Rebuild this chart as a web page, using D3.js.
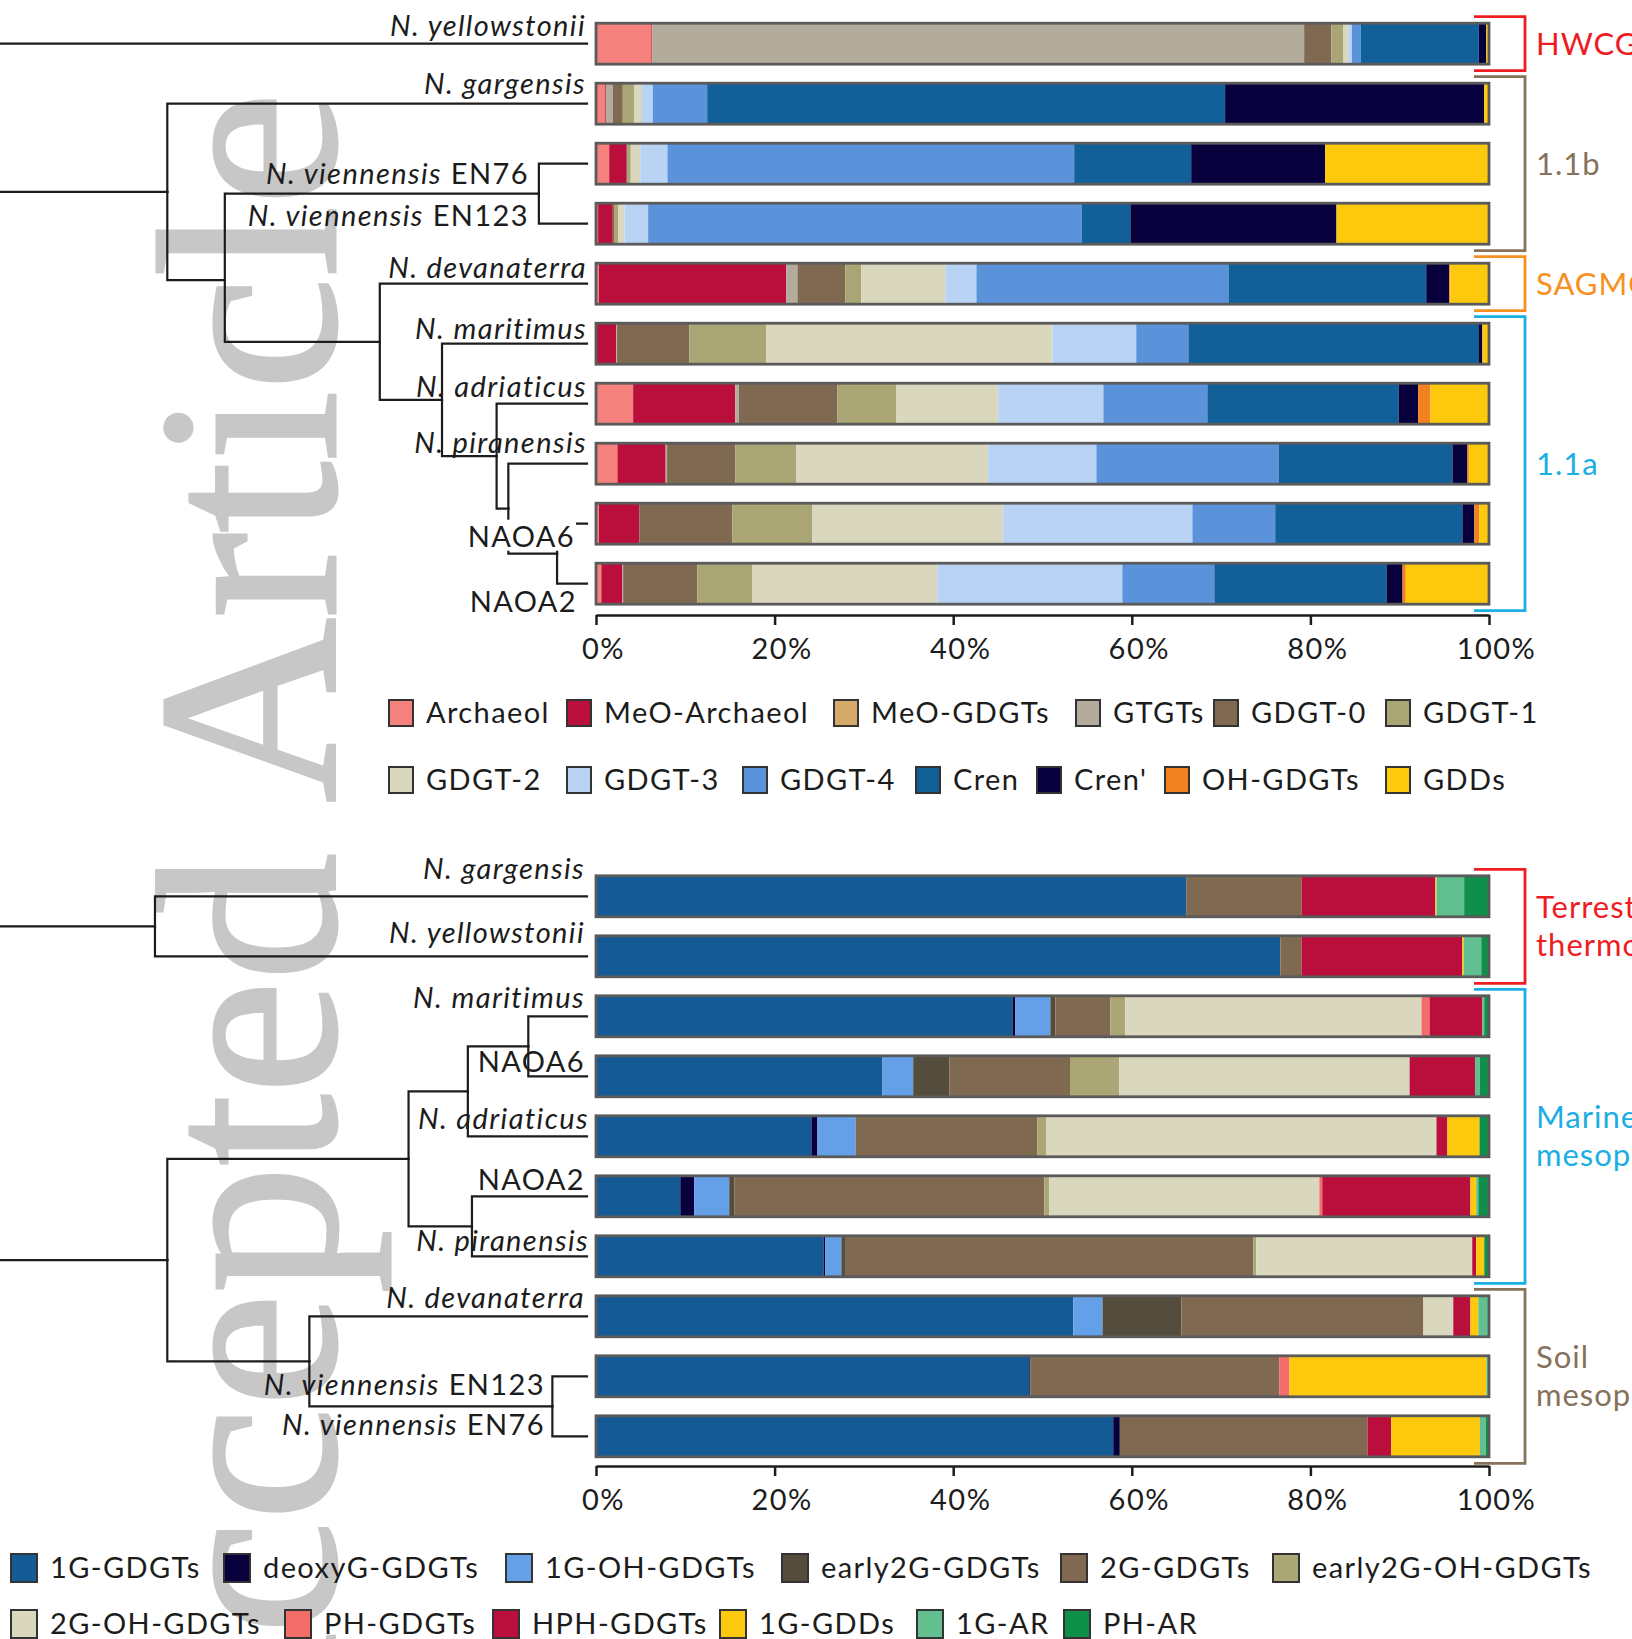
<!DOCTYPE html>
<html>
<head>
<meta charset="utf-8">
<script src="https://cdn.jsdelivr.net/npm/d3@7"></script>
<style>
  body { margin: 0; background: #ffffff; }
  svg { display: block; font-family: Lato, "Open Sans", "DejaVu Sans", sans-serif; }
</style>
</head>
<body>
<svg id="chart" width="1632" height="1639"></svg>
<script>
// ---------------- Upper panel: core lipid classes (% of total) ----------------
const lipidSeries = ["Archaeol", "MeO-Archaeol", "MeO-GDGTs", "GTGTs", "GDGT-0", "GDGT-1",
                     "GDGT-2", "GDGT-3", "GDGT-4", "Cren", "Cren'", "OH-GDGTs", "GDDs"];
const lipidColors = ["#F4817B", "#BA0F3C", "#D4A96A", "#B3AC9C", "#7F6A51", "#A9A575",
                     "#D9D7BE", "#B9D3F5", "#5A93DA", "#11609A", "#08003D", "#F28220", "#FDC90C"];
const lipidStrains = ["N. yellowstonii", "N. gargensis", "N. viennensis EN76", "N. viennensis EN123",
                      "N. devanaterra", "N. maritimus", "N. adriaticus", "N. piranensis", "NAOA6", "NAOA2"];
const lipidValues = [
  [6.2, 0.1, 0, 73.0, 3.05, 1.35, 0.55, 0.4, 1.0, 13.2, 0.85, 0, 0.3],
  [1.0, 0.1, 0, 0.8, 1.1, 1.25, 0.9, 1.2, 6.1, 58.0, 29.0, 0, 0.55],
  [1.48, 1.96, 0, 0, 0.1, 0.35, 1.07, 3.04, 45.55, 13.1, 15.0, 0, 18.35],
  [0.24, 1.64, 0, 0, 0.2, 0.4, 0.72, 2.64, 48.53, 5.47, 23.08, 0, 17.08],
  [0.32, 21.0, 0, 1.24, 5.36, 1.8, 9.4, 3.48, 28.23, 22.14, 2.58, 0.1, 4.35],
  [0, 2.28, 0.08, 0, 8.08, 8.64, 32.04, 9.38, 5.84, 32.47, 0.45, 0, 0.74],
  [4.16, 11.44, 0, 0.4, 11.04, 6.6, 11.4, 11.78, 11.64, 21.41, 2.2, 1.35, 6.58],
  [2.4, 5.4, 0, 0.16, 7.64, 6.84, 21.48, 12.12, 20.39, 19.48, 1.68, 0.16, 2.25],
  [0.32, 4.52, 0, 0, 10.44, 8.96, 21.36, 21.19, 9.27, 20.96, 1.34, 0.54, 1.1],
  [0.6, 2.36, 0, 0.08, 8.32, 6.16, 20.72, 20.7, 10.3, 19.28, 1.8, 0.36, 9.32]
];
// cladogram for the upper panel (depth: 0 = left edge, 100 = tips)
const lipidTree = [
  { leaf: "N. yellowstonii" },
  { depth: 28.5, children: [
    { leaf: "N. gargensis" },
    { depth: 38.3, row: 3.94, children: [
      { depth: 91.8, children: [{ leaf: "N. viennensis EN76" }, { leaf: "N. viennensis EN123" }] },
      { depth: 64.7, children: [
        { leaf: "N. devanaterra" },
        { depth: 75.3, children: [
          { leaf: "N. maritimus" },
          { depth: 84.6, children: [
            { leaf: "N. adriaticus" },
            { depth: 86.6, children: [
              { leaf: "N. piranensis" },
              { depth: 94.9, children: [{ leaf: "NAOA6" }, { leaf: "NAOA2" }] }
            ] }
          ] }
        ] }
      ] }
    ] }
  ] }
];
const lipidGroups = [
  { name: ["HWCG"], color: "#EE1D23", from: 0, to: 0 },
  { name: ["1.1b"], color: "#86715A", from: 1, to: 3 },
  { name: ["SAGMCG"], color: "#F7901E", from: 4, to: 4 },
  { name: ["1.1a"], color: "#1BAEE5", from: 5, to: 9 }
];

// ---------------- Lower panel: intact polar lipid headgroups (% of total) ----------------
const iplSeries = ["1G-GDGTs", "deoxyG-GDGTs", "1G-OH-GDGTs", "early2G-GDGTs", "2G-GDGTs",
                   "early2G-OH-GDGTs", "2G-OH-GDGTs", "PH-GDGTs", "HPH-GDGTs", "1G-GDDs", "1G-AR", "PH-AR"];
const iplColors = ["#145A95", "#08003D", "#64A0E8", "#544C3C", "#7F6A51", "#AAA676",
                   "#D9D7BE", "#F36D6A", "#BA0F3C", "#FDC90C", "#62C090", "#0E8F4A"];
const iplStrains = ["N. gargensis", "N. yellowstonii", "N. maritimus", "NAOA6", "N. adriaticus",
                    "NAOA2", "N. piranensis", "N. devanaterra", "N. viennensis EN123", "N. viennensis EN76"];
const iplValues = [
  [66.09, 0, 0, 0, 12.91, 0, 0, 0, 14.99, 0.13, 3.1, 2.78],
  [76.63, 0, 0, 0, 2.37, 0, 0, 0, 18.02, 0.16, 1.96, 0.86],
  [46.64, 0.32, 3.92, 0.56, 6.16, 1.67, 33.17, 0.9, 5.92, 0, 0.21, 0.53],
  [32.08, 0, 3.44, 4.04, 13.52, 5.52, 32.51, 0, 7.32, 0, 0.53, 1.04],
  [24.12, 0.68, 4.28, 0, 20.36, 1.0, 43.68, 0, 1.22, 3.6, 0, 1.06],
  [9.44, 1.56, 3.92, 0.56, 34.72, 0.56, 30.24, 0.33, 16.59, 0.65, 0.24, 1.19],
  [25.48, 0.2, 1.8, 0.4, 45.73, 0.33, 24.18, 0, 0.45, 0.9, 0, 0.53],
  [53.44, 0, 3.28, 8.84, 27.09, 0, 3.35, 0, 1.92, 0.89, 1.19, 0],
  [48.52, 0.12, 0, 0, 27.87, 0, 0, 1.14, 0, 22.06, 0.29, 0],
  [57.92, 0.74, 0, 0, 27.74, 0, 0, 0, 2.65, 9.93, 0.65, 0.37]
];
const iplTree = [
  { depth: 26.4, children: [{ leaf: "N. gargensis" }, { leaf: "N. yellowstonii" }] },
  { depth: 28.5, children: [
    { depth: 69.6, children: [
      { depth: 79.7, children: [
        { depth: 90.0, children: [{ leaf: "N. maritimus" }, { leaf: "NAOA6" }] },
        { leaf: "N. adriaticus" }
      ] },
      { depth: 80.4, children: [{ leaf: "NAOA2" }, { leaf: "N. piranensis" }] }
    ] },
    { depth: 52.7, children: [
      { leaf: "N. devanaterra" },
      { depth: 94.1, children: [{ leaf: "N. viennensis EN123" }, { leaf: "N. viennensis EN76" }] }
    ] }
  ] }
];
const iplGroups = [
  { name: ["Terrestrial", "thermophiles"], color: "#EE1D23", from: 0, to: 1 },
  { name: ["Marine", "mesophiles"], color: "#1BAEE5", from: 2, to: 6 },
  { name: ["Soil", "mesophiles"], color: "#86715A", from: 7, to: 9 }
];

const percentTicks = [0, 20, 40, 60, 80, 100];

// ---------------- layout ----------------
const svg = d3.select("#chart");
const INK = "#1c1c1c";

// faint vertical watermark behind everything
svg.append("text")
  .attr("transform", "translate(335,92) rotate(-90)")
  .attr("text-anchor", "end")
  .style("font-family", "'Liberation Serif', 'DejaVu Serif', serif")
  .style("font-size", "256px")
  .attr("fill", "#c7c7c7")
  .attr("stroke", "#c7c7c7").attr("stroke-width", 3)
  .text("Accepted Article");

const x = d3.scaleLinear().domain([0, 100]).range([596, 1489]);
const treeX = d3.scaleLinear().domain([0, 100]).range([0, 587]);

// label placement: [right edge x, baseline offset from tip row]
const lipidLabelPos = {
  "N. yellowstonii": [586, -8], "N. gargensis": [586, -10], "N. viennensis EN76": [529, 20],
  "N. viennensis EN123": [529, 2], "N. devanaterra": [587, -6], "N. maritimus": [587, -5],
  "N. adriaticus": [587, -7], "N. piranensis": [587, -11], "NAOA6": [575, 23], "NAOA2": [577, 28.5]
};
const iplLabelPos = {
  "N. gargensis": [585, -17], "N. yellowstonii": [585, -13], "N. maritimus": [585, -8],
  "NAOA6": [585, -4], "N. adriaticus": [589, -7], "NAOA2": [585, -6], "N. piranensis": [589, -5],
  "N. devanaterra": [585, -8], "N. viennensis EN123": [545, 19], "N. viennensis EN76": [545, -1]
};
const lipidLegendPos = [[388, 713], [566, 713], [833, 713], [1075, 713], [1213, 713], [1385, 713],
                        [388, 780], [566, 780], [742, 780], [915, 780], [1036, 780], [1164, 780], [1385, 780]];
const iplLegendPos = [[10, 1568], [223, 1568], [505, 1568], [781, 1568], [1060, 1568], [1272, 1568],
                      [10, 1624], [284, 1624], [492, 1624], [719, 1624], [916, 1624], [1063, 1624]];

function drawPanel(p) {
  const g = svg.append("g");
  const n = p.strains.length;
  const y = d3.scaleBand().domain(p.strains).range(p.bandRange)
    .paddingInner(0.317).paddingOuter(0.1585);
  const rowY = d3.scaleLinear().domain([0, n - 1])
    .range([y(p.strains[0]) + y.bandwidth() / 2, y(p.strains[n - 1]) + y.bandwidth() / 2]);

  // stacked bars
  const table = p.strains.map((s, i) => {
    const o = { strain: s };
    p.series.forEach((k, j) => { o[k] = p.values[i][j]; });
    return o;
  });
  const stacked = d3.stack().keys(p.series)(table);
  g.append("g").selectAll("g").data(stacked).join("g")
    .attr("fill", (d, i) => p.colors[i])
    .selectAll("rect").data(d => d).join("rect")
    .attr("x", d => x(d[0]))
    .attr("width", d => Math.max(0, x(d[1]) - x(d[0])))
    .attr("y", d => y(d.data.strain))
    .attr("height", y.bandwidth());
  g.append("g").selectAll("rect").data(p.strains).join("rect")
    .attr("x", x(0)).attr("width", x(100) - x(0))
    .attr("y", d => y(d)).attr("height", y.bandwidth())
    .attr("fill", "none").attr("stroke", "#5b5b5b").attr("stroke-width", 2.8);

  // percentage axis
  const ax = g.append("g").attr("transform", `translate(0,${p.axisY})`)
    .call(d3.axisBottom(x).tickValues(percentTicks).tickFormat(d => d + "%")
      .tickSize(10).tickSizeOuter(0));
  ax.select(".domain").attr("stroke", INK).attr("stroke-width", 2.5);
  ax.selectAll(".tick line").attr("stroke", INK).attr("stroke-width", 2.5);
  ax.selectAll(".tick text").attr("fill", INK).attr("dy", 0).attr("y", 44).attr("dx", 7)
    .style("font-size", "29px").style("letter-spacing", "1.5px").style("font-family", "Lato, sans-serif");

  // cladogram
  const treeG = g.append("g").attr("fill", "none").attr("stroke", INK).attr("stroke-width", 2.2)
    .attr("stroke-linecap", "square");
  p.tree.forEach(clade => {
    const root = d3.hierarchy(clade, d => d.children);
    root.eachAfter(nd => {
      if (nd.data.leaf) { nd.tx = 100; nd.ty = p.strains.indexOf(nd.data.leaf); }
      else {
        nd.tx = nd.data.depth;
        nd.ty = nd.data.row !== undefined ? nd.data.row : d3.mean(nd.children, c => c.ty);
      }
    });
    treeG.append("path").attr("d", `M0,${rowY(root.ty)}H${treeX(root.tx)}`);
    root.links().forEach(l => {
      treeG.append("path").attr("d",
        `M${treeX(l.source.tx)},${rowY(l.source.ty)}V${rowY(l.target.ty)}H${treeX(l.target.tx)}`);
    });
  });

  // tip labels (species part italic)
  const labG = g.append("g").attr("fill", INK).style("font-size", "29px")
    .style("letter-spacing", "1.4px").attr("text-anchor", "end");
  p.strains.forEach((s, i) => {
    const [lx, dy] = p.labelPos[s];
    const t = labG.append("text").attr("x", lx).attr("y", rowY(i) + dy);
    if (s.startsWith("N. ")) {
      const parts = s.split(" ");
      t.append("tspan").style("font-style", "italic").text(parts[0] + " " + parts[1]);
      if (parts.length > 2) t.append("tspan").text(" " + parts.slice(2).join(" "));
    } else {
      t.text(s);
    }
    if (p.knockout && p.knockout.includes(s)) {
      const b = t.node().getBBox();
      labG.insert("rect", () => t.node())
        .attr("x", b.x - 1).attr("y", b.y + 2).attr("width", b.width + 2).attr("height", b.height - 4)
        .attr("fill", "#ffffff");
    }
  });

  // clade brackets
  const brG = g.append("g");
  p.groups.forEach(gr => {
    const y0 = rowY(gr.from) - 27, y1 = rowY(gr.to) + 27;
    brG.append("path").attr("d", `M1474,${y0}H1525V${y1}H1474`)
      .attr("fill", "none").attr("stroke", gr.color).attr("stroke-width", 2.8);
    const mid = (y0 + y1) / 2;
    const lh = 38;
    gr.name.forEach((line, k) => {
      brG.append("text").attr("x", 1536)
        .attr("y", mid + (k - (gr.name.length - 1) / 2) * lh)
        .attr("dy", "0.36em").attr("fill", gr.color)
        .style("font-size", "31px").style("letter-spacing", "1px").text(line);
    });
  });

  // legend
  const lg = g.append("g");
  p.series.forEach((s, i) => {
    const [lx, ly] = p.legendPos[i];
    lg.append("rect").attr("x", lx + 1).attr("y", ly - p.sw / 2)
      .attr("width", p.sw - 2).attr("height", p.sw)
      .attr("fill", p.colors[i]).attr("stroke", "#333").attr("stroke-width", 2);
    lg.append("text").attr("x", lx + p.sw + 12).attr("y", ly).attr("dy", "0.36em")
      .attr("fill", INK).style("font-size", "29px").style("letter-spacing", "1.4px").text(s);
  });
}

drawPanel({
  series: lipidSeries, colors: lipidColors, strains: lipidStrains, values: lipidValues,
  tree: lipidTree, groups: lipidGroups, bandRange: [13.7, 613.7], axisY: 615,
  labelPos: lipidLabelPos, legendPos: lipidLegendPos, sw: 26, knockout: ["NAOA6"]
});
drawPanel({
  series: iplSeries, colors: iplColors, strains: iplStrains, values: iplValues,
  tree: iplTree, groups: iplGroups, bandRange: [866.3, 1466.3], axisY: 1466,
  labelPos: iplLabelPos, legendPos: iplLegendPos, sw: 28
});
</script>
</body>
</html>
